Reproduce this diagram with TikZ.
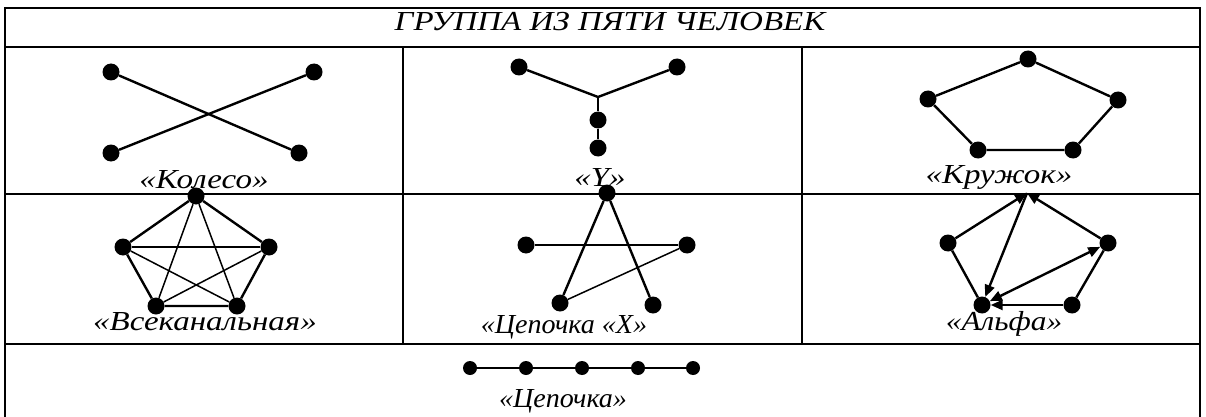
\documentclass[tikz,border=0pt]{standalone}
\usepackage{fontspec}
\usepackage{graphicx}
\setmainfont{Liberation Serif}[FakeStretch=1.2]
\usetikzlibrary{arrows.meta}
\begin{document}
\begin{tikzpicture}[x=1pt,y=-1pt,
  dot/.style={circle,fill=black,inner sep=0pt,minimum size=17pt},
  sdot/.style={circle,fill=black,inner sep=0pt,minimum size=14pt},
  edge/.style={line width=2.4pt},
  thinedge/.style={line width=1.5pt},
  grid/.style={line width=2.5pt},
  lbl/.style={font=\fontsize{27.5}{32}\selectfont\itshape,inner sep=0pt,anchor=base},
  arr/.style={edge,-{Triangle[length=12pt,width=10pt]}},
  darr/.style={edge,{Triangle[length=12pt,width=10pt]}-{Triangle[length=12pt,width=10pt]}}]
\useasboundingbox (0,0) rectangle (1206,417);
\fill[white] (0,0) rectangle (1206,417);
% table
\draw[grid] (5,425) -- (5,8) -- (1200,8) -- (1200,425);
\draw[grid] (5,47) -- (1200,47);
\draw[grid] (5,194) -- (1200,194);
\draw[grid] (5,344) -- (1200,344);
\draw[grid] (403,47) -- (403,344);
\draw[grid] (802,47) -- (802,344);
% title
\node[lbl] (title) at (610,31) {ГРУППА ИЗ ПЯТИ ЧЕЛОВЕК};
% Koleso
\node[dot] (k1) at (111,72) {};
\node[dot] (k2) at (314,72) {};
\node[dot] (k3) at (111,153) {};
\node[dot] (k4) at (299,153) {};
\draw[edge] (k1) -- (k4);
\draw[edge] (k2) -- (k3);
\node[lbl] (lk) at (204,188) {«Колесо»};
% Y
\node[dot] (y1) at (519,67) {};
\node[dot] (y2) at (677,67) {};
\coordinate (yj) at (598,97);
\node[dot] (y3) at (598,120) {};
\node[dot] (y4) at (598,148) {};
\draw[edge] (y1) -- (yj) -- (y2);
\draw[edge] (yj) -- (y3) -- (y4);
\node[lbl] (ly) at (600,186) {«Y»};
% Kruzhok
\node[dot] (c1) at (1028,59) {};
\node[dot] (c2) at (1118,100) {};
\node[dot] (c3) at (1073,150) {};
\node[dot] (c4) at (978,150) {};
\node[dot] (c5) at (928,99) {};
\draw[edge] (c1) -- (c2) -- (c3) -- (c4) -- (c5) -- (c1);
\node[lbl] (lc) at (999,183) {«Кружок»};
% Vsekanalnaya
\node[dot] (v1) at (196,196) {};
\node[dot] (v2) at (269,247) {};
\node[dot] (v3) at (237,306) {};
\node[dot] (v4) at (156,306) {};
\node[dot] (v5) at (123,247) {};
\draw[edge] (v1) -- (v2) -- (v3) -- (v4) -- (v5) -- (v1);
\draw[thinedge] (v1) -- (v3);
\draw[thinedge] (v1) -- (v4);
\draw[thinedge] (v2) -- (v4);
\draw[thinedge] (v2) -- (v5);
\draw[thinedge] (v3) -- (v5);
\node[lbl] (lv) at (205,330) {«Всеканальная»};
% Tsepochka X
\node[dot] (x1) at (607,193) {};
\node[dot] (x2) at (687,245) {};
\node[dot] (x3) at (653,305) {};
\node[dot] (x4) at (560,303) {};
\node[dot] (x5) at (526,245) {};
\draw[edge] (x1) -- (x4);
\draw[edge] (x1) -- (x3);
\draw[edge] (x5) -- (x2);
\draw[thinedge] (x2) -- (x4);
\node[lbl] (lx) at (564,333) {\scalebox{0.85}[1]{«Цепочка «X»}};
% Alfa
\coordinate (a1) at (1027,193);
\node[dot] (a2) at (1108,243) {};
\node[dot] (a3) at (1072,305) {};
\node[dot] (a4) at (982,305) {};
\node[dot] (a5) at (948,243) {};
\draw[arr] (a5) -- (a1);
\draw[arr] (a2) -- (a1);
\draw[arr] (a1) -- (a4);
\draw[edge] (a5) -- (a4);
\draw[darr] (a4) -- (a2);
\draw[arr] (a3) -- (a4);
\draw[edge] (a3) -- (a2);
\node[lbl] (la) at (1004,330) {\scalebox{0.95}[1]{«Альфа»}};
% Tsepochka
\node[sdot] (t1) at (470,368) {};
\node[sdot] (t2) at (526,368) {};
\node[sdot] (t3) at (582,368) {};
\node[sdot] (t4) at (638,368) {};
\node[sdot] (t5) at (693,368) {};
\draw[edge] (t1) -- (t2) -- (t3) -- (t4) -- (t5);
\node[lbl] (lt) at (563,407) {\scalebox{0.85}[1]{«Цепочка»}};
\end{tikzpicture}
\end{document}
